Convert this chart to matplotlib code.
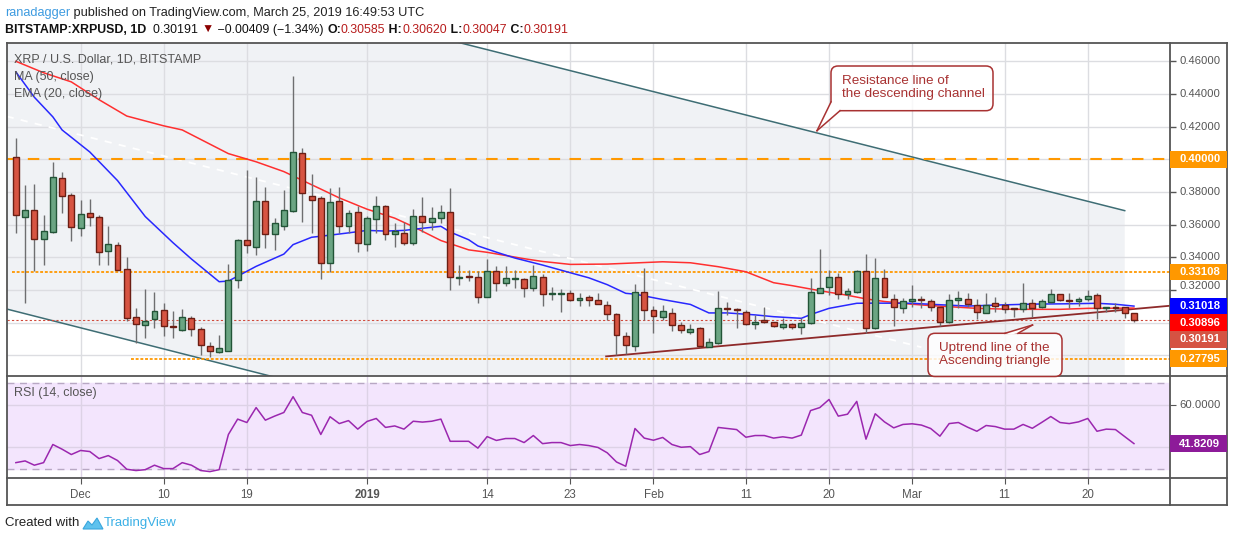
#!/usr/bin/env python3
import numpy as np
import pandas as pd
import matplotlib
matplotlib.use('Agg')
import matplotlib.pyplot as plt
import matplotlib.dates as mdates
from matplotlib.patches import Rectangle, FancyBboxPatch, Polygon
from matplotlib.lines import Line2D
from matplotlib.transforms import IdentityTransform

plt.rcParams['font.family'] = ['Liberation Sans', 'DejaVu Sans']

# daily candles, XRP/USD (Bitstamp)
dates = pd.date_range('2018-11-24', '2019-03-25', freq='D')
opens = [0.4016, 0.3647, 0.3689, 0.3515, 0.3555, 0.3884, 0.3781,
         0.3580, 0.3671, 0.3647, 0.3438, 0.3476, 0.3330, 0.3037, 0.2989, 0.3021, 0.3080,
         0.2977, 0.2958, 0.3031, 0.2964, 0.2855, 0.2818, 0.2830, 0.3263, 0.3507, 0.3463,
         0.3743, 0.3541, 0.3590, 0.3682, 0.4037, 0.3776, 0.3761, 0.3363, 0.3743, 0.3590, 0.3676,
         0.3480, 0.3633, 0.3712, 0.3541, 0.3547, 0.3490, 0.3651, 0.3618, 0.3639, 0.3676,
         0.3276, 0.3284, 0.3278, 0.3155, 0.3314, 0.3241, 0.3269, 0.3265, 0.3214, 0.3278,
         0.3175, 0.3178, 0.3180, 0.3139, 0.3155, 0.3139, 0.3110, 0.3051, 0.2916, 0.2855, 0.3190,
         0.3076, 0.3035, 0.3061, 0.2984, 0.2941, 0.2965, 0.2853, 0.2873, 0.3090, 0.3084,
         0.3063, 0.2990, 0.3016, 0.3006, 0.2976, 0.2990, 0.2976, 0.2996, 0.3184, 0.3216,
         0.3282, 0.3173, 0.3186, 0.3314, 0.2965, 0.3271, 0.3147, 0.3088,
         0.3131, 0.3145, 0.3131, 0.3094, 0.3006, 0.3137, 0.3143, 0.3110, 0.3057, 0.3118,
         0.3110, 0.3090, 0.3082, 0.3118, 0.3094, 0.3124, 0.3173, 0.3139, 0.3131, 0.3143,
         0.3167, 0.3088, 0.3094, 0.3094, 0.30585]
highs = [0.4128, 0.3844, 0.3850, 0.3661, 0.3984, 0.3923, 0.3793,
         0.3752, 0.3758, 0.3661, 0.3594, 0.3494, 0.3405, 0.3092, 0.3204, 0.3186, 0.3119,
         0.3070, 0.3086, 0.3044, 0.2971, 0.2885, 0.2922, 0.3360, 0.3513, 0.3935, 0.3890,
         0.3833, 0.3641, 0.3812, 0.4510, 0.4067, 0.3908, 0.3776, 0.3822, 0.3831, 0.3690, 0.3716,
         0.3653, 0.3776, 0.3718, 0.3608, 0.3618, 0.3696, 0.3771, 0.3710, 0.3720, 0.3827,
         0.3353, 0.3322, 0.3318, 0.3390, 0.3347, 0.3347, 0.3322, 0.3271, 0.3351, 0.3296,
         0.3216, 0.3204, 0.3200, 0.3182, 0.3171, 0.3182, 0.3133, 0.3057, 0.2943, 0.3235, 0.3333,
         0.3102, 0.3108, 0.3088, 0.3004, 0.2992, 0.2976, 0.2908, 0.3194, 0.3124, 0.3088,
         0.3078, 0.3047, 0.3094, 0.3006, 0.3027, 0.2996, 0.3027, 0.3271, 0.3449, 0.3322,
         0.3302, 0.3210, 0.3322, 0.3420, 0.3398, 0.3327, 0.3173, 0.3151,
         0.3231, 0.3163, 0.3143, 0.3098, 0.3173, 0.3194, 0.3180, 0.3145, 0.3180, 0.3155,
         0.3124, 0.3090, 0.3241, 0.3143, 0.3145, 0.3204, 0.3173, 0.3180, 0.3155, 0.3200,
         0.3180, 0.3094, 0.3118, 0.3098, 0.30620]
lows = [0.3549, 0.3123, 0.3316, 0.3352, 0.3550, 0.3671, 0.3498,
        0.3529, 0.3594, 0.3352, 0.3352, 0.3320, 0.3011, 0.2873, 0.2908, 0.2969, 0.2920,
        0.2908, 0.2952, 0.2916, 0.2800, 0.2788, 0.2812, 0.2824, 0.3214, 0.3427, 0.3414,
        0.3459, 0.3445, 0.3567, 0.3680, 0.3618, 0.3551, 0.3265, 0.3310, 0.3547, 0.3547, 0.3435,
        0.3439, 0.3551, 0.3506, 0.3465, 0.3476, 0.3473, 0.3557, 0.3567, 0.3608, 0.3200,
        0.3231, 0.3257, 0.3118, 0.3155, 0.3196, 0.3224, 0.3214, 0.3155, 0.3196, 0.3104,
        0.3141, 0.3063, 0.3131, 0.3104, 0.3104, 0.3114, 0.3014, 0.2800, 0.2810, 0.2829, 0.3014,
        0.2935, 0.3014, 0.2947, 0.2935, 0.2931, 0.2853, 0.2849, 0.2869, 0.3047, 0.2965,
        0.2986, 0.2963, 0.2996, 0.2976, 0.2959, 0.2963, 0.2931, 0.2990, 0.3180, 0.3169,
        0.3143, 0.3143, 0.3180, 0.2935, 0.2959, 0.3155, 0.2982, 0.3057,
        0.3098, 0.3088, 0.3073, 0.2982, 0.3000, 0.3088, 0.3098, 0.3020, 0.3057, 0.3063,
        0.3057, 0.3037, 0.3067, 0.3037, 0.3088, 0.3118, 0.3131, 0.3088, 0.3104, 0.3135,
        0.3020, 0.3063, 0.3067, 0.3030, 0.30047]
closes = [0.3661, 0.3689, 0.3515, 0.3561, 0.3890, 0.3775, 0.3586,
          0.3665, 0.3647, 0.3433, 0.3482, 0.3324, 0.3031, 0.2995, 0.3013, 0.3074, 0.2983,
          0.2971, 0.3037, 0.2964, 0.2861, 0.2824, 0.2843, 0.3263, 0.3507, 0.3476, 0.3745,
          0.3541, 0.3608, 0.3688, 0.4043, 0.3792, 0.3753, 0.3363, 0.3737, 0.3590, 0.3669, 0.3486,
          0.3639, 0.3712, 0.3541, 0.3563, 0.3490, 0.3651, 0.3618, 0.3639, 0.3676, 0.3278,
          0.3282, 0.3280, 0.3155, 0.3314, 0.3241, 0.3271, 0.3273, 0.3214, 0.3284, 0.3173,
          0.3180, 0.3182, 0.3139, 0.3151, 0.3139, 0.3114, 0.3051, 0.2922, 0.2861, 0.3190, 0.3076,
          0.3043, 0.3069, 0.2984, 0.2953, 0.2961, 0.2859, 0.2880, 0.3088, 0.3086, 0.3078,
          0.2990, 0.3006, 0.3002, 0.2978, 0.2990, 0.2971, 0.2996, 0.3186, 0.3210, 0.3282,
          0.3173, 0.3194, 0.3314, 0.2965, 0.3271, 0.3155, 0.3094, 0.3131,
          0.3145, 0.3137, 0.3094, 0.3006, 0.3139, 0.3149, 0.3112, 0.3063, 0.3110, 0.3104,
          0.3082, 0.3082, 0.3118, 0.3088, 0.3131, 0.3173, 0.3137, 0.3131, 0.3145, 0.3161,
          0.3088, 0.3094, 0.3088, 0.3060, 0.30191]

rsi = [32.9, 33.7, 31.7, 32.9, 41.4, 39.2, 36.7,
       38.6, 38.1, 34.8, 36.2, 33.9, 29.8, 29.2, 29.6, 31.7, 30.1,
       30.1, 32.9, 31.7, 29.2, 28.7, 29.6, 46.1, 53.3, 51.7, 58.7,
       52.8, 54.7, 56.4, 63.8, 56.4, 55.1, 46.1, 54.4, 51.2, 52.6, 48.6,
       52.2, 53.6, 49.4, 50.1, 48.6, 52.3, 51.9, 52.3, 53.3, 42.9,
       42.9, 42.9, 39.7, 45.1, 43.3, 44.2, 44.2, 42.3, 45.6, 41.8,
       42.3, 42.3, 40.9, 41.4, 40.9, 40.0, 37.5, 33.2, 31.2, 48.9, 44.4,
       43.4, 44.7, 41.4, 40.1, 40.4, 36.7, 38.1, 49.4, 48.9, 48.4,
       44.8, 45.6, 45.6, 44.4, 45.0, 44.4, 45.8, 57.3, 58.7, 62.5,
       54.7, 55.6, 61.6, 43.9, 55.8, 52.0, 49.2, 50.8,
       51.1, 50.5, 48.9, 45.3, 51.2, 51.7, 49.5, 47.6, 50.3, 49.8,
       48.6, 48.6, 50.8, 49.0, 51.7, 54.5, 51.7, 51.2, 52.0, 53.6,
       47.6, 48.6, 48.4, 45.1, 41.8209]

ma50_dates = ['2018-11-24', '2018-11-27', '2018-11-30', '2018-12-03', '2018-12-06',
              '2018-12-10', '2018-12-12', '2018-12-17', '2018-12-20', '2018-12-23',
              '2018-12-27', '2018-12-29', '2019-01-01', '2019-01-04', '2019-01-06',
              '2019-01-09', '2019-01-12', '2019-01-14', '2019-01-18', '2019-01-20',
              '2019-01-23', '2019-01-27', '2019-02-02', '2019-02-05', '2019-02-08',
              '2019-02-11', '2019-02-14', '2019-02-16', '2019-02-19', '2019-02-22',
              '2019-02-24', '2019-02-26', '2019-03-01', '2019-03-03', '2019-03-08',
              '2019-03-12', '2019-03-17', '2019-03-20', '2019-03-25']
ma50 = [0.4600, 0.4530, 0.4474, 0.4365, 0.4265, 0.4205, 0.4180, 0.4035, 0.3985,
        0.3925, 0.3818, 0.3764, 0.3695, 0.3640, 0.3588, 0.3503, 0.3446, 0.3431,
        0.3392, 0.3375, 0.3357, 0.3359, 0.3373, 0.3367, 0.3343, 0.3312, 0.3245,
        0.3227, 0.3196, 0.3168, 0.3146, 0.3130, 0.3113, 0.3105, 0.3088, 0.3082,
        0.3082, 0.3088, 0.30896]

ema20_dates = ['2018-11-24', '2018-11-26', '2018-11-28', '2018-11-29', '2018-12-02',
               '2018-12-05', '2018-12-08', '2018-12-11', '2018-12-13', '2018-12-16',
               '2018-12-17', '2018-12-20', '2018-12-23', '2018-12-24', '2018-12-26',
               '2018-12-28', '2018-12-30', '2019-01-01', '2019-01-03', '2019-01-05',
               '2019-01-07', '2019-01-09', '2019-01-10', '2019-01-12', '2019-01-13',
               '2019-01-15', '2019-01-17', '2019-01-20', '2019-01-23', '2019-01-25',
               '2019-01-27', '2019-01-29', '2019-01-30', '2019-02-02', '2019-02-05',
               '2019-02-07', '2019-02-09', '2019-02-12', '2019-02-14', '2019-02-17',
               '2019-02-18', '2019-02-20', '2019-02-23', '2019-02-25', '2019-03-01',
               '2019-03-03', '2019-03-07', '2019-03-10', '2019-03-14', '2019-03-18',
               '2019-03-21', '2019-03-23', '2019-03-25']
ema20 = [0.4535, 0.4380, 0.4260, 0.4180, 0.4045, 0.3870, 0.3650, 0.3490, 0.3390,
         0.3251, 0.3255, 0.3345, 0.3420, 0.3478, 0.3523, 0.3536, 0.3550, 0.3565,
         0.3561, 0.3565, 0.3578, 0.3590, 0.3555, 0.3508, 0.3470, 0.3432, 0.3396,
         0.3353, 0.3306, 0.3275, 0.3233, 0.3180, 0.3175, 0.3142, 0.3112, 0.3060,
         0.3060, 0.3048, 0.3037, 0.3027, 0.3050, 0.3088, 0.3119, 0.3120, 0.3119,
         0.3113, 0.3102, 0.3108, 0.3114, 0.3116, 0.3119, 0.3113, 0.31018]

# drawn lines (two anchor points each)
channel_top = (['2019-01-01', '2019-03-24'], [0.4857, 0.3686])
channel_bottom = (['2018-11-23', '2018-12-22'], [0.3084, 0.2667])
uptrend = (['2019-01-26 21:00', '2019-03-28 22:00'], [0.2794, 0.3104])
ghost = (['2018-11-23', '2019-03-02'], [0.4263, 0.2850])

tag_values = [0.40000, 0.33108, 0.31018, 0.30896, 0.30191, 0.27795]
tag_colors = ['#ff9800', '#ff9800', '#0000ff', '#ff0000', '#d55343', '#ff9800']
price_ticks = [0.46, 0.44, 0.42, 0.38, 0.36, 0.34, 0.32]

tick_dates = ['2018-12-01', '2018-12-10', '2018-12-19', '2019-01-01', '2019-01-14',
              '2019-01-23', '2019-02-01', '2019-02-11', '2019-02-20', '2019-03-01',
              '2019-03-11', '2019-03-20']
tick_labels = ['Dec', '10', '19', '2019', '14', '23', 'Feb', '11', '20', 'Mar', '11', '20']

W, H = 1234, 541
GRAY = '#555555'
NOTE = '#a83232'


def dn(s):
    return mdates.date2num(pd.to_datetime(s))


def box(x0, y0, x1, y1):
    return [x0 / W, 1 - y1 / H, (x1 - x0) / W, (y1 - y0) / H]


def px(x, y):
    # top-left pixel -> display coords
    return (x, H - y)


fig = plt.figure(figsize=(W / 100, H / 100), dpi=100)
ax = fig.add_axes(box(7, 43, 1170, 376))
ax_rsi = fig.add_axes(box(7, 376, 1170, 478), sharex=ax)

x = mdates.date2num(dates)
o, hi, lo, c = (np.array(v) for v in (opens, highs, lows, closes))
day0 = dn('2019-01-01')
ax.set_xlim(day0 - 38.96, day0 + 86.9)
ax.set_ylim(0.2674, 0.4712)
ax_rsi.set_ylim(25.7, 73.5)


def line_fn(pts):
    xs = [dn(d) for d in pts[0]]
    k, b = np.polyfit(xs, pts[1], 1)
    return lambda t: k * t + b


# channel shading
top_f, bot_f = line_fn(channel_top), line_fn(channel_bottom)
xl, xr = ax.get_xlim()[0], dn(channel_top[0][1])
ax.add_patch(Polygon([(xl, top_f(xl)), (xr, top_f(xr)), (xr, bot_f(xr)), (xl, bot_f(xl))],
                     facecolor='#f0f2f5', edgecolor='none', zorder=0.2))
ax.plot([xl, xr], [top_f(xl), top_f(xr)], color='#3e6d74', lw=1.1, zorder=2)
ax.plot([xl, dn('2018-12-30')], [bot_f(xl), bot_f(dn('2018-12-30'))],
        color='#3e6d74', lw=1.1, zorder=2)
ax.plot([dn(d) for d in ghost[0]], ghost[1], color='white', lw=1.3,
        ls=(0, (4, 4)), zorder=1.5)

# horizontal levels
ax.hlines(tag_values[0], xl, ax.get_xlim()[1], color='#ff9800', lw=1.5,
          linestyles=(0, (5.5, 4.5)), zorder=2)
ax.hlines(tag_values[1], dn('2018-11-23 14:00'), ax.get_xlim()[1], color='#ff9800',
          lw=1.3, linestyles=(0, (1.6, 1.0)), zorder=2)
ax.hlines(tag_values[5], dn('2018-12-06 12:00'), ax.get_xlim()[1], color='#ff9800',
          lw=1.3, linestyles=(0, (1.6, 1.0)), zorder=2)
ax.axhline(closes[-1], color='#d04a3c', lw=0.8, ls=(0, (2, 2)), zorder=2)

ax.plot([dn(d) for d in uptrend[0]], uptrend[1], color='#8e2a2a', lw=1.3, zorder=2.5)

# moving averages
ax.plot([dn(d) for d in ma50_dates], ma50, color='#ff2f2f', lw=1.1, zorder=3)
ax.plot([dn(d) for d in ema20_dates], ema20, color='#2828ff', lw=1.1, zorder=3)

# candles
up = c >= o
body_lo = np.minimum(o, c)
body_h = np.maximum(np.abs(c - o), 0.0003)
ax.vlines(x, lo, hi, color='#6e6e70', lw=1.0, zorder=4)
ax.bar(x[up], body_h[up], 0.64, body_lo[up], color='#6ba583', edgecolor='#225437',
       lw=1.0, zorder=5)
ax.bar(x[~up], body_h[~up], 0.64, body_lo[~up], color='#d75442', edgecolor='#6b1e14',
       lw=1.0, zorder=5)

# grids / ticks
tx = [dn(d) for d in tick_dates]
for a in (ax, ax_rsi):
    for s in a.spines.values():
        s.set_visible(False)
    a.set_axisbelow(True)
ax.set_yticks(np.arange(0.28, 0.4601, 0.02))
ax.yaxis.tick_right()
ax.tick_params(axis='y', length=4, color=GRAY, labelright=False, width=1)
ax.tick_params(axis='x', length=0, labelbottom=False)
ax.grid(True, color='#dcdde1', lw=1.0)
ax_rsi.set_xticks(tx)
ax_rsi.set_xticklabels(tick_labels)
ax_rsi.tick_params(axis='x', length=4, color=GRAY, labelsize=8.3, labelcolor=GRAY, pad=4)
for t in ax_rsi.get_xticklabels():
    if t.get_text() == '2019':
        t.set_fontweight('bold')
ax_rsi.set_yticks([40, 60])
ax_rsi.yaxis.tick_right()
ax_rsi.tick_params(axis='y', length=4, color=GRAY, labelright=False)
ax_rsi.grid(True, color='#ddd2e6', lw=1.0)

# RSI panel
ax_rsi.axhspan(30, 70, color='#f3e5fd', zorder=0.1)
ax_rsi.axhline(70, color='#b8a8c4', lw=1, ls=(0, (5, 4)))
ax_rsi.axhline(30, color='#b8a8c4', lw=1, ls=(0, (5, 4)))
ax_rsi.plot(x, rsi, color='#9b27af', lw=1.1, zorder=3)

# frame
frame = [(7, 43, 1227, 43), (7, 505, 1227, 505), (7, 43, 7, 505), (1227, 43, 1227, 505),
         (7, 376, 1227, 376), (7, 478, 1227, 478), (1170, 43, 1170, 505)]
for x0, y0, x1, y1 in frame:
    fig.add_artist(Line2D([x0 / W, x1 / W], [1 - y0 / H, 1 - y1 / H],
                          transform=fig.transFigure, color='#555555', lw=1.3, zorder=20))

fig.canvas.draw()


def ypix(axis, v):
    return H - axis.transData.transform((0, v))[1]


# price scale labels
for v in price_ticks:
    y = ypix(ax, v)
    if abs(v - 0.32) < 1e-9:
        y -= 4
    fig.text(1179 / W, 1 - y / H, '%.5f' % v, color=GRAY, fontsize=8.1,
             va='center', ha='left')

prev = -1e9
for v, col in zip(tag_values, tag_colors):
    y = max(ypix(ax, v), prev + 16.7)
    prev = y
    fig.add_artist(Rectangle((1170 / W, 1 - (y + 8.35) / H), 57 / W, 16.7 / H,
                             transform=fig.transFigure, facecolor=col, edgecolor='none',
                             zorder=21))
    fig.text(1179 / W, 1 - y / H, '%.5f' % v, color='white', fontsize=8.1,
             fontweight='bold', va='center', ha='left', zorder=22)

fig.text(1179 / W, 1 - ypix(ax_rsi, 60) / H, '60.0000', color=GRAY, fontsize=8.1,
         va='center', ha='left')
y = ypix(ax_rsi, rsi[-1])
fig.add_artist(Rectangle((1170 / W, 1 - (y + 8.35) / H), 57 / W, 16.7 / H,
                         transform=fig.transFigure, facecolor='#8d1b99', edgecolor='none',
                         zorder=21))
fig.text(1179 / W, 1 - y / H, '%.4f' % rsi[-1], color='white', fontsize=8.1,
         fontweight='bold', va='center', ha='left', zorder=22)


def ftext(x0, y0, s, **kw):
    kw.setdefault('va', 'center')
    kw.setdefault('ha', 'left')
    return fig.text(x0 / W, 1 - y0 / H, s, **kw)


# legend texts
ftext(14, 60, 'XRP / U.S. Dollar, 1D, BITSTAMP', color=GRAY, fontsize=9, zorder=25)
ftext(14, 77, 'MA (50, close)', color=GRAY, fontsize=9, zorder=25)
ftext(14, 94, 'EMA (20, close)', color=GRAY, fontsize=9, zorder=25)
ftext(14, 393, 'RSI (14, close)', color=GRAY, fontsize=9, zorder=25)

# header
renderer = fig.canvas.get_renderer()


def run(x0, y0, pieces, size):
    for s, col, wt in pieces:
        t = ftext(x0, y0, s, color=col, fontsize=size, fontweight=wt)
        x0 += t.get_window_extent(renderer).width


run(5, 13, [('ranadagger', '#3d9be0', 'normal'),
            (' published on TradingView.com, March 25, 2019 16:49:53 UTC', '#222222', 'normal')],
    9.15)
red = '#b71c1c'
run(5, 30, [('BITSTAMP:XRPUSD, 1D', '#111111', 'bold'),
            ('  0.30191 ', '#111111', 'normal'),
            ('\u25bc', '#8b0000', 'normal'),
            (' \u22120.00409 (\u22121.34%) ', '#111111', 'normal'),
            ('O:', '#111111', 'bold'), ('0.30585', red, 'normal'),
            (' H:', '#111111', 'bold'), ('0.30620', red, 'normal'),
            (' L:', '#111111', 'bold'), ('0.30047', red, 'normal'),
            (' C:', '#111111', 'bold'), ('0.30191', red, 'normal')], 8.9)

# footer
ftext(5, 523, 'Created with', color='#222222', fontsize=9.5)
fig.add_artist(Polygon([px(83, 529), px(88, 521), px(92, 525), px(97, 518), px(103, 529)],
                       closed=True, transform=IdentityTransform(), facecolor='#5ec2ee',
                       edgecolor='#3aa6dd', lw=0.8))
ftext(104, 523, 'TradingView', color='#3bb0e6', fontsize=9.5)


# callouts
def callout(x0, y0, x1, y1, tail, lines, tx0, ty0):
    fig.add_artist(FancyBboxPatch(px(x0, y1), x1 - x0, y1 - y0,
                                  boxstyle='round,pad=0,rounding_size=7',
                                  transform=IdentityTransform(),
                                  facecolor=(1, 1, 1, 0.82),
                                  edgecolor=NOTE, lw=1.1, zorder=26))
    a, tip, b, inner = tail
    fig.add_artist(Polygon([px(*a), px(*tip), px(*b), px(*inner)], closed=True,
                           transform=IdentityTransform(), facecolor='white',
                           edgecolor='none', zorder=27))
    for p in (a, b):
        fig.add_artist(Line2D([p[0], tip[0]], [H - p[1], H - tip[1]],
                              transform=IdentityTransform(), color=NOTE, lw=1.1, zorder=28))
    for i, s in enumerate(lines):
        ftext(tx0, ty0 + i * 12.8, s, color=NOTE, fontsize=9.7, zorder=29)


callout(831, 66, 993, 110.7, ((831, 102), (817, 130.7), (840, 110.7), (836, 105)),
        ['Resistance line of', 'the descending channel'], 841.5, 81.5)
callout(928, 333.3, 1062, 376.5, ((1005, 333.3), (1032.5, 325), (1018, 333.3), (1011, 334.5)),
        ['Uptrend line of the', 'Ascending triangle'], 939, 348.5)

fig.savefig('out.png', dpi=100, facecolor='white')
